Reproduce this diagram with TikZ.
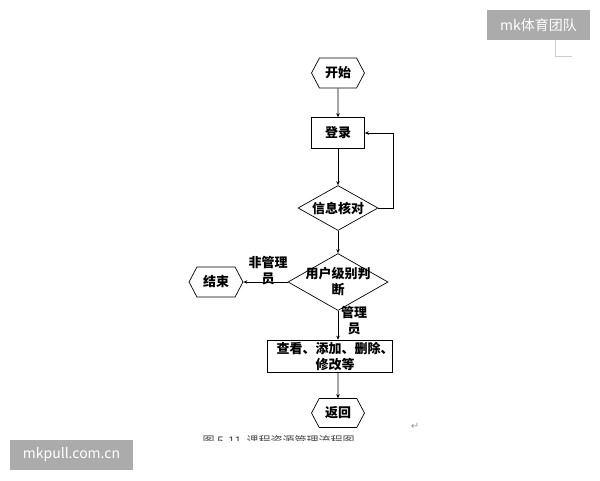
\documentclass[tikz,border=0pt]{standalone}
\usepackage{fontspec}
\newfontfamily\cjk{Noto Sans CJK SC}
\newfontfamily\dejavu{DejaVu Sans}
\usetikzlibrary{shapes.symbols,shapes.geometric,arrows.meta}

\tikzset{
  hexa/.style={draw, signal, signal to=west and east, signal pointer angle=124,
    minimum width=53pt, minimum height=30pt, inner sep=0pt, line width=0.7pt},
  caja/.style={draw, rectangle, minimum height=31pt, inner sep=0pt, line width=0.7pt},
  rombo/.style={draw, diamond, inner sep=0pt, line width=0.7pt},
  texto/.style={font=\cjk\bfseries\fontsize{13}{16}\selectfont, align=center, inner sep=0pt},
  flecha/.style={-{Stealth[length=4pt,width=3.5pt]}, line width=0.7pt},
  marca/.style={fill=black!33, draw=none, text=white, inner sep=0pt}
}

\begin{document}
\begin{tikzpicture}[x=1pt,y=-1pt]
\useasboundingbox (0,0) rectangle (600,480);

% Nodos del flujo
\node[hexa,texto] (inicio) at (338,73) {开始};
\node[caja,texto,minimum width=53pt] (login) at (338,133) {登录};
\node[rombo,minimum width=80pt,minimum height=45pt] (info) at (338,208) {};
\node[texto] (infotxt) at (338,208) {信息核对};
\node[rombo,minimum width=100pt,minimum height=57pt] (nivel) at (338,282) {};
\node[texto] (niveltxt) at (338,282) {用户级别判\\断};
\node[hexa,texto,minimum width=54pt] (fin) at (216,282) {结束};
\node[caja,minimum width=125pt,minimum height=32pt] (gestion) at (330,356) {};
\node[texto] (gestiontxt) at (335,356) {查看、添加、删除、\\修改等};
\node[hexa,texto,minimum height=29pt] (volver) at (338,413) {返回};

% Etiquetas
\node[texto] (noadmin) at (268,271) {非管理\\员};
\node[texto] (admin) at (354,321) {管理\\员};

% Flechas
\draw[flecha] (inicio) -- (login);
\draw[flecha] (login) -- (info);
\draw[flecha] (info.east) -- ++(15,0) |- (login.east);
\draw[flecha] (info) -- (nivel);
\draw[flecha] (nivel.west) -- (fin.east);
\draw[flecha] (nivel.south) -- (gestion.north -| nivel.south);
\draw[flecha] (gestion.south -| volver.north) -- (volver);

% Pie de figura (cortado)
\begin{scope}
  \clip (150,428) rectangle (450,440);
  \node[font=\cjk\fontsize{12}{14}\selectfont, text=black!70, anchor=west] (pie) at (199,441) {图 5-11\ \ 课程资源管理流程图。};
\end{scope}
\node[font=\dejavu\fontsize{10}{12}\selectfont, text=black!40] (retorno) at (415,426) {↵};

% Marcas de agua
\node[marca, minimum width=103pt, minimum height=30pt, font=\cjk\fontsize{14}{16}\selectfont] (sello) at (538.5,25) {mk体育团队};
\draw[black!20, line width=1pt] (555,40) |- (572,56);
\node[marca, minimum width=123pt, minimum height=30pt, font=\cjk\fontsize{14}{16}\selectfont] (web) at (71.5,455) {mkpull.com.cn};
\end{tikzpicture}
\end{document}
